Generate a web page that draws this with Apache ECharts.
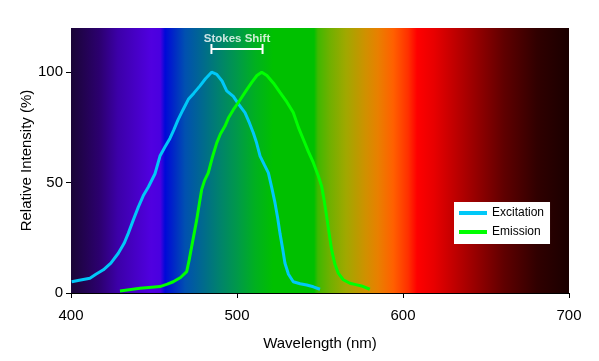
<!DOCTYPE html>
<html><head><meta charset="utf-8">
<script src="https://cdn.jsdelivr.net/npm/echarts@6/dist/echarts.min.js"></script>
<style>html,body{margin:0;padding:0;background:#fff}#c{width:599px;height:361px}</style>
</head><body><div id="c"></div>
<script>
// ---- data ----
const excitationWl = [400.4,405,411.4,415,419.5,424,428.5,432,434.5,437.5,440.6,443.5,446.6,450.6,453.6,456.5,459.6,462,464.6,467.5,470.7,474,477.7,481,484.7,487.8,491,493.8,497.8,500.5,504.8,507.5,509.8,511.8,513.9,516.5,518.9,521,522.9,524.5,525.9,527.5,528.9,531,533.9,538,542,546,550];
const excitationI  = [5.1,5.8,6.7,8.5,10.5,13.5,18,22.5,27,33,39,44,48,54,62,66,70,74,78.6,83,87.7,90.5,93.8,97,100,99,96,91.5,89,86,81.7,77,72.6,68,62,58,54.4,47.5,40.8,34,27,20,13.5,8.5,5.1,4.2,3.6,2.8,1.7];
const emissionWl = [429.5,435,441.6,447,453.6,458,461.6,466,469.7,471.2,472.7,474.2,475.7,477.2,478.7,480.5,482.7,485,487.8,490,492.8,495,497.8,501,505.8,509,512,514.9,518,522,525.9,530,533.9,537,540,543,546,549,551,552.5,554,555.5,557,559,561,564,568,571.5,575,580];
const emissionI  = [0.9,1.5,2.1,2.5,2.9,4,5.1,7,9.7,15,21,27,33,40,46.8,51,54.4,61,68,72,75.6,79.5,83,86.5,92,95.5,98.5,100,98.5,95,90.8,86.5,81.7,75,69.5,64,59,53,48.3,42,34.7,27,19.5,13,9,6,4.4,3.8,3.2,1.7];
const stokesWl = [484.6, 515.4];
const stokesLevel = 110.5;
const stokesLabel = 'Stokes Shift';
const stokesLabelLevel = 115.2;
const xTicks = [400,500,600,700];
const yTicks = [0,50,100];

// ---- style: spectrum background (offset along plot width, colour) ----
const spectrumStops = [
  [0,'#1a0536'],[0.058,'#2c0070'],[0.094,'#3c00a8'],[0.161,'#5000e0'],[0.179,'#4a00e0'],
  [0.189,'#0008d8'],[0.229,'#0050b0'],[0.295,'#008070'],[0.335,'#009a48'],[0.369,'#00b020'],
  [0.406,'#00c000'],[0.488,'#00c000'],[0.496,'#40b800'],[0.520,'#70b000'],[0.552,'#a0a800'],
  [0.592,'#d09000'],[0.616,'#e88000'],[0.647,'#ff6000'],[0.677,'#ff3000'],[0.695,'#ff0000'],
  [0.729,'#e80000'],[0.803,'#a00000'],[0.869,'#600000'],[0.936,'#300000'],[1,'#1a0000']
];

const zip = (a,b) => a.map((v,i)=>[v,b[i]]);
const chart = echarts.init(document.getElementById('c'));
const font = 'Liberation Sans, Arial, sans-serif';
chart.setOption({
  animation:false,
  grid:{left:71,right:30,top:28,bottom:68,show:true,borderWidth:0,
    backgroundColor:{type:'linear',x:0,y:0,x2:1,y2:0,
      colorStops:spectrumStops.map(s=>({offset:s[0],color:s[1]}))}},
  xAxis:{type:'value',min:400,max:700,interval:100,
    name:'Wavelength (nm)',nameLocation:'middle',nameGap:43,nameMoveOverlap:false,
    nameTextStyle:{fontFamily:font,fontSize:15,color:'#000'},
    axisLine:{show:true,lineStyle:{color:'#000',width:1}},
    axisTick:{show:true,length:5,inside:false,lineStyle:{color:'#000'},customValues:xTicks},
    axisLabel:{fontFamily:font,fontSize:15,color:'#000',margin:15,customValues:xTicks},
    splitLine:{show:false}},
  yAxis:{type:'value',min:0,max:120,interval:50,
    name:'Relative Intensity (%)',nameLocation:'middle',nameGap:37,nameMoveOverlap:false,
    nameTextStyle:{fontFamily:font,fontSize:15,color:'#000'},
    axisLine:{show:false},
    axisTick:{show:true,length:5,lineStyle:{color:'#000'},customValues:yTicks},
    axisLabel:{fontFamily:font,fontSize:15,color:'#000',margin:8,customValues:yTicks},
    splitLine:{show:false}},
  legend:{left:454,top:202,orient:'vertical',backgroundColor:'#fff',padding:[5,6,6,5],
    itemGap:7,itemWidth:28,itemHeight:4,icon:'rect',
    textStyle:{fontFamily:font,fontSize:12,color:'#000'},
    data:['Excitation','Emission']},
  series:[
    {name:'Excitation',type:'line',data:zip(excitationWl,excitationI),showSymbol:false,
     smooth:false,lineStyle:{color:'#00c8f8',width:3},itemStyle:{color:'#00c8f8'}},
    {name:'Emission',type:'line',data:zip(emissionWl,emissionI),showSymbol:false,
     lineStyle:{color:'#00ff00',width:3},itemStyle:{color:'#00ff00'}},
    {name:'stokes',type:'line',data:stokesWl.map(w=>[w,stokesLevel]),
     symbol:'rect',symbolSize:[2,10],showSymbol:true,
     lineStyle:{color:'#fff',width:2},itemStyle:{color:'#fff'}},
    {name:'stokesText',type:'scatter',symbolSize:0,
     data:[[(stokesWl[0]+stokesWl[1])/2,stokesLabelLevel]],
     label:{show:true,position:'inside',formatter:stokesLabel,
       fontFamily:font,fontSize:11.5,fontWeight:'bold',color:'#fff'}}
  ]
});
</script></body></html>
